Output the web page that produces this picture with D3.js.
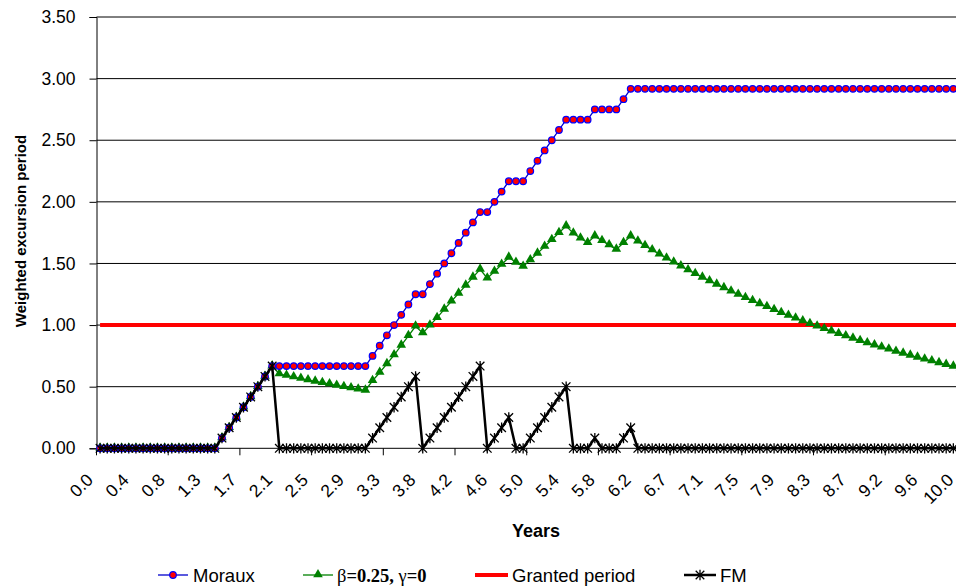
<!DOCTYPE html>
<html>
<head>
<meta charset="utf-8">
<script src="https://cdn.jsdelivr.net/npm/d3@7"></script>
<style>
  body { margin: 0; background: #fff; }
  svg { display: block; }
  text { font-family: "Liberation Sans", Arial, sans-serif; fill: #000; }
</style>
</head>
<body>
<svg id="chart" width="956" height="588"></svg>
<script>
// Monthly time steps (years) over the ten-year window
const years = [
  0.000, 0.083, 0.167, 0.250, 0.333, 0.417, 0.500, 0.583, 0.667, 0.750, 0.833, 0.917,
  1.000, 1.083, 1.167, 1.250, 1.333, 1.417, 1.500, 1.583, 1.667, 1.750, 1.833, 1.917,
  2.000, 2.083, 2.167, 2.250, 2.333, 2.417, 2.500, 2.583, 2.667, 2.750, 2.833, 2.917,
  3.000, 3.083, 3.167, 3.250, 3.333, 3.417, 3.500, 3.583, 3.667, 3.750, 3.833, 3.917,
  4.000, 4.083, 4.167, 4.250, 4.333, 4.417, 4.500, 4.583, 4.667, 4.750, 4.833, 4.917,
  5.000, 5.083, 5.167, 5.250, 5.333, 5.417, 5.500, 5.583, 5.667, 5.750, 5.833, 5.917,
  6.000, 6.083, 6.167, 6.250, 6.333, 6.417, 6.500, 6.583, 6.667, 6.750, 6.833, 6.917,
  7.000, 7.083, 7.167, 7.250, 7.333, 7.417, 7.500, 7.583, 7.667, 7.750, 7.833, 7.917,
  8.000, 8.083, 8.167, 8.250, 8.333, 8.417, 8.500, 8.583, 8.667, 8.750, 8.833, 8.917,
  9.000, 9.083, 9.167, 9.250, 9.333, 9.417, 9.500, 9.583, 9.667, 9.750, 9.833, 9.917,
  10.000
];

// Category labels, shown on every fifth month
const tickLabels = ["0.0","0.4","0.8","1.3","1.7","2.1","2.5","2.9","3.3","3.8","4.2","4.6","5.0",
                    "5.4","5.8","6.2","6.7","7.1","7.5","7.9","8.3","8.7","9.2","9.6","10.0"];
const labelEvery = 5;
const tickEvery = 10;

const yTicks = [0, 0.5, 1.0, 1.5, 2.0, 2.5, 3.0, 3.5];

// Moraux cumulative excursion period
const moraux = [
  0, 0, 0, 0, 0, 0, 0, 0, 0, 0, 0, 0, 0, 0, 0, 0, 0,
  0.083, 0.167, 0.250, 0.333, 0.417, 0.500, 0.583, 0.667,
  0.667, 0.667, 0.667, 0.667, 0.667, 0.667, 0.667, 0.667, 0.667, 0.667, 0.667, 0.667, 0.667,
  0.750, 0.833, 0.917, 1.000, 1.083, 1.167, 1.250,
  1.250,
  1.333, 1.417, 1.500, 1.583, 1.667, 1.750, 1.833, 1.917,
  1.917,
  2.000, 2.083, 2.167,
  2.167, 2.167,
  2.250, 2.333, 2.417, 2.500, 2.583, 2.667,
  2.667, 2.667, 2.667,
  2.750,
  2.750, 2.750, 2.750,
  2.833, 2.917,
  2.917, 2.917, 2.917, 2.917, 2.917, 2.917, 2.917, 2.917, 2.917, 2.917,
  2.917, 2.917, 2.917, 2.917, 2.917, 2.917, 2.917, 2.917, 2.917, 2.917,
  2.917, 2.917, 2.917, 2.917, 2.917, 2.917, 2.917, 2.917, 2.917, 2.917,
  2.917, 2.917, 2.917, 2.917, 2.917, 2.917, 2.917, 2.917, 2.917, 2.917,
  2.917, 2.917, 2.917, 2.917, 2.917, 2.917
];

// Weighted period with beta = 0.25, gamma = 0
const betaWeighted = [
  0, 0, 0, 0, 0, 0, 0, 0, 0, 0, 0, 0, 0, 0, 0, 0, 0,
  0.083, 0.167, 0.250, 0.333, 0.417, 0.500, 0.583, 0.667,
  0.603, 0.590, 0.578, 0.566, 0.554, 0.543, 0.532, 0.521, 0.510, 0.499, 0.489, 0.479, 0.470,
  0.548, 0.615, 0.685, 0.757, 0.835, 0.913, 0.990,
  0.935,
  0.998, 1.060, 1.127, 1.193, 1.257, 1.322, 1.387, 1.452,
  1.380,
  1.435, 1.492, 1.549,
  1.508, 1.475,
  1.528, 1.582, 1.637, 1.693, 1.749, 1.803,
  1.745, 1.705, 1.668,
  1.722,
  1.684, 1.649, 1.614,
  1.668, 1.722,
  1.680, 1.643, 1.609, 1.575, 1.542, 1.510, 1.478, 1.447, 1.417, 1.387,
  1.358, 1.330, 1.302, 1.275, 1.248, 1.222, 1.197, 1.172, 1.148, 1.124,
  1.100, 1.077, 1.055, 1.033, 1.011, 0.990, 0.970, 0.950, 0.930, 0.911,
  0.892, 0.873, 0.855, 0.837, 0.820, 0.803, 0.786, 0.770, 0.754, 0.738,
  0.723, 0.708, 0.693, 0.679, 0.665, 0.651
];

// Granted period (constant)
const granted = years.map(() => 1.0);

// FM running excursion length, reset after each excursion
const fm = [
  0, 0, 0, 0, 0, 0, 0, 0, 0, 0, 0, 0, 0, 0, 0, 0, 0,
  0.083, 0.167, 0.250, 0.333, 0.417, 0.500, 0.583, 0.667,
  0, 0, 0, 0, 0, 0, 0, 0, 0, 0, 0, 0, 0,
  0.083, 0.167, 0.250, 0.333, 0.417, 0.500, 0.583,
  0,
  0.083, 0.167, 0.250, 0.333, 0.417, 0.500, 0.583, 0.667,
  0,
  0.083, 0.167, 0.250,
  0, 0,
  0.083, 0.167, 0.250, 0.333, 0.417, 0.500,
  0, 0, 0,
  0.083,
  0, 0, 0,
  0.083, 0.167,
  0, 0, 0, 0, 0, 0, 0, 0, 0, 0,
  0, 0, 0, 0, 0, 0, 0, 0, 0, 0,
  0, 0, 0, 0, 0, 0, 0, 0, 0, 0,
  0, 0, 0, 0, 0, 0, 0, 0, 0, 0,
  0, 0, 0, 0, 0, 0
];

const svg = d3.select("#chart");
svg.append("rect").attr("width", 956).attr("height", 588).attr("fill", "#fff");

const plotLeft = 96.5, plotRight = 964.1, plotTop = 17, plotBottom = 448.3;
const idx = years.map((_, i) => i);
const x = d3.scalePoint().domain(idx).range([plotLeft, plotRight]).padding(0.5);
const step = x.step();
const y = d3.scaleLinear().domain([0, 3.5]).range([plotBottom, plotTop]);

// Horizontal gridlines
svg.append("g").selectAll("line").data(yTicks.filter(d => d > 0)).join("line")
  .attr("x1", plotLeft).attr("x2", plotRight)
  .attr("y1", d => y(d)).attr("y2", d => y(d))
  .attr("stroke", "#000").attr("stroke-width", 1);

// Y axis
const yAxis = d3.axisLeft(y).tickValues(yTicks).tickFormat(d3.format(".2f")).tickSize(7).tickPadding(14);
const gy = svg.append("g").attr("transform", `translate(${plotLeft},0)`).call(yAxis);
gy.select(".domain").attr("stroke", "#000");
gy.selectAll(".tick line").attr("stroke", "#000");
gy.selectAll(".tick text").attr("font-size", 17.5).attr("font-family", "'Liberation Sans', Arial, sans-serif").attr("fill", "#000");

// X axis: ticks at category boundaries, labels rotated
const gx = svg.append("g");
gx.append("line").attr("x1", plotLeft).attr("x2", plotRight)
  .attr("y1", plotBottom).attr("y2", plotBottom).attr("stroke", "#000");
gx.selectAll("line.tick").data(idx.filter(i => i % tickEvery === 0)).join("line")
  .attr("class", "tick")
  .attr("x1", i => x(i) - step / 2).attr("x2", i => x(i) - step / 2)
  .attr("y1", plotBottom).attr("y2", plotBottom + 7).attr("stroke", "#000");
gx.selectAll("text").data(tickLabels).join("text")
  .attr("transform", (d, j) => `translate(${x(j * labelEvery) - 6},481) rotate(-45)`)
  .attr("text-anchor", "end").attr("font-size", 17.5)
  .text(d => d);

// Axis titles
svg.append("text").attr("x", 536).attr("y", 537).attr("text-anchor", "middle")
  .attr("font-size", 18).attr("font-weight", "bold").text("Years");
svg.append("text").attr("transform", "translate(26,231) rotate(-90)").attr("text-anchor", "middle")
  .attr("font-size", 15).attr("font-weight", "bold").text("Weighted excursion period");

// Marker shapes
const triangle = d3.symbol().type(d3.symbolTriangle).size(40)();
function star(g, cx, cy, r) {
  g.append("path")
    .attr("d", `M${cx - r},${cy - r}L${cx + r},${cy + r}M${cx - r},${cy + r}L${cx + r},${cy - r}M${cx},${cy - r * 1.2}L${cx},${cy + r * 1.2}`)
    .attr("stroke", "#000").attr("stroke-width", 1.3).attr("fill", "none");
}

const line = d3.line().x((d, i) => x(i)).y(d => y(d));
const plot = svg.append("g");

// Granted period
plot.append("path").datum(granted).attr("d", line)
  .attr("fill", "none").attr("stroke", "#ff0000").attr("stroke-width", 4);

// Beta weighted series
plot.append("path").datum(betaWeighted).attr("d", line)
  .attr("fill", "none").attr("stroke", "#008000").attr("stroke-width", 1.3);
plot.append("g").selectAll("path").data(betaWeighted).join("path")
  .attr("d", triangle)
  .attr("transform", (d, i) => `translate(${x(i)},${y(d) - 0.5})`)
  .attr("fill", "#008000");

// Moraux
plot.append("path").datum(moraux).attr("d", line)
  .attr("fill", "none").attr("stroke", "#0000cc").attr("stroke-width", 1.3);
plot.append("g").selectAll("circle").data(moraux).join("circle")
  .attr("cx", (d, i) => x(i)).attr("cy", d => y(d)).attr("r", 3.3)
  .attr("fill", "#ff0000").attr("stroke", "#0000ff").attr("stroke-width", 1.2);

// FM
plot.append("path").datum(fm).attr("d", line)
  .attr("fill", "none").attr("stroke", "#000").attr("stroke-width", 2.5);
const fmMarks = plot.append("g");
fm.forEach((d, i) => star(fmMarks, x(i), y(d), 4.3));

// Legend
const legendY = 575;
const leg = svg.append("g");
leg.append("line").attr("x1", 158).attr("x2", 188).attr("y1", legendY).attr("y2", legendY)
  .attr("stroke", "#0000cc").attr("stroke-width", 1.3);
leg.append("circle").attr("cx", 173).attr("cy", legendY).attr("r", 3.3)
  .attr("fill", "#ff0000").attr("stroke", "#0000ff").attr("stroke-width", 1.2);
leg.append("text").attr("x", 193).attr("y", legendY + 6.5).attr("font-size", 18.5).text("Moraux");

leg.append("line").attr("x1", 303).attr("x2", 333).attr("y1", legendY).attr("y2", legendY)
  .attr("stroke", "#008000").attr("stroke-width", 1.3);
leg.append("path").attr("d", triangle).attr("transform", `translate(318,${legendY - 0.5})`).attr("fill", "#008000");
const bt = leg.append("text").attr("x", 337).attr("y", legendY + 6.5).attr("font-size", 18.5)
  .style("font-family", "'Liberation Serif', 'Times New Roman', serif");
bt.append("tspan").text("β");
bt.append("tspan").attr("font-weight", "bold").text("=0.25, ");
bt.append("tspan").text("γ");
bt.append("tspan").attr("font-weight", "bold").text("=0");

leg.append("line").attr("x1", 475).attr("x2", 508).attr("y1", legendY).attr("y2", legendY)
  .attr("stroke", "#ff0000").attr("stroke-width", 4);
leg.append("text").attr("x", 512).attr("y", legendY + 6.5).attr("font-size", 18.5).text("Granted period");

leg.append("line").attr("x1", 684).attr("x2", 716).attr("y1", legendY).attr("y2", legendY)
  .attr("stroke", "#000").attr("stroke-width", 2.5);
star(leg, 700, legendY, 4.3);
leg.append("text").attr("x", 720).attr("y", legendY + 6.5).attr("font-size", 18.5).text("FM");
</script>
</body>
</html>
